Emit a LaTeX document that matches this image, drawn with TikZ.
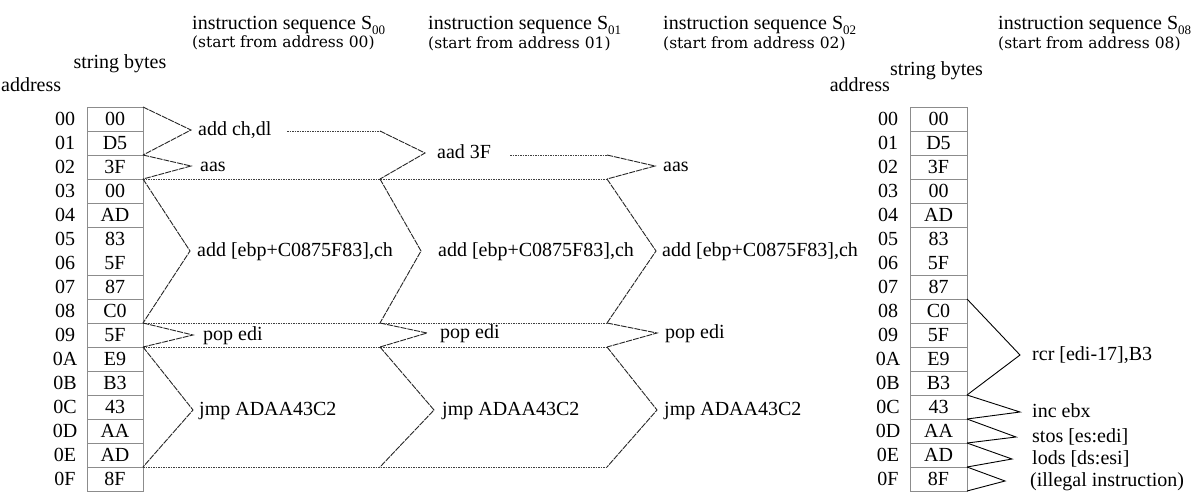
\documentclass[tikz,border=0pt]{standalone}
\usepackage{fontspec}
\setmainfont{Liberation Serif}
\newfontfamily\subfont{DejaVu Serif}
\begin{document}
\begin{tikzpicture}[x=1pt,y=-1pt,
  txt/.style={font=\fontsize{20}{22}\selectfont, inner sep=0pt, text height=14pt, text depth=4pt},
  lbl/.style={txt, anchor=west},
  sub/.style={font=\subfont\fontsize{15.5}{17}\selectfont, inner sep=0pt, anchor=west},
  addr/.style={txt},
  cell/.style={txt},
  tbl/.style={draw=black!45, line width=0.9pt},
  conn/.style={draw=black!85, line width=0.9pt, dash pattern=on 6pt off 1pt},
  solidconn/.style={draw=black, line width=0.9pt},
  dot/.style={draw=black!75, line width=0.8pt, dash pattern=on 1.5pt off 1pt}]
\useasboundingbox (0,0) rectangle (1198,493);
\fill[white] (0,0) rectangle (1198,493);

% headings
\node[lbl] (hal) at (1,86) {address};
\node[txt] (hsl) at (120,63) {string bytes};
\node[txt, anchor=east] (har) at (890,86) {address};
\node[lbl] (hsr) at (890,70) {string bytes};

\newcommand{\Sub}[1]{S\raisebox{-5pt}{\fontsize{13}{13}\selectfont #1}}
\node[lbl] (t00) at (192,24) {instruction sequence \Sub{00}};
\node[sub] (u00) at (192,43) {(start from address 00)};
\node[lbl] (t01) at (428,24) {instruction sequence \Sub{01}};
\node[sub] (u01) at (428,44) {(start from address 01)};
\node[lbl] (t02) at (663,24) {instruction sequence \Sub{02}};
\node[sub] (u02) at (663,44) {(start from address 02)};
\node[lbl] (t08) at (998,24) {instruction sequence \Sub{08}};
\node[sub] (u08) at (998,44) {(start from address 08)};

% tables
\draw[tbl] (87,107) rectangle (143,491);
\draw[tbl] (910,107) rectangle (967,491);
\foreach \i in {1,2,3,4,5,7,8,9,10,11,12,13,14,15} {
  \draw[tbl] (87,107+24*\i) -- (143,107+24*\i);
  \draw[tbl] (910,107+24*\i) -- (967,107+24*\i);
}
\foreach \i/\a/\v in {0/00/00,1/01/D5,2/02/3F,3/03/00,4/04/AD,5/05/83,6/06/5F,7/07/87,8/08/C0,9/09/5F,10/0A/E9,11/0B/B3,12/0C/43,13/0D/AA,14/0E/AD,15/0F/8F} {
  \node[addr] (La\i) at (65,120+24*\i) {\a};
  \node[cell] (Lc\i) at (115,120+24*\i) {\v};
  \node[addr] (Ra\i) at (888,120+24*\i) {\a};
  \node[cell] (Rc\i) at (938.5,120+24*\i) {\v};
}
\foreach \i in {0,...,16} {
  \coordinate (L\i) at (143,107+24*\i);
  \coordinate (A\i) at (380,107+24*\i);
  \coordinate (B\i) at (607,107+24*\i);
  \coordinate (R\i) at (967,107+24*\i);
}

% vertices
\coordinate (v00a) at (191,130); \node[lbl] (i00a) at (198,130) {add ch,dl};
\coordinate (v00b) at (191,166); \node[lbl] (i00b) at (200,166) {aas};
\coordinate (v00c) at (190,251); \node[lbl] (i00c) at (197,251) {add [ebp+C0875F83],ch};
\coordinate (v00d) at (193,335); \node[lbl] (i00d) at (203,335) {pop edi};
\coordinate (v00e) at (193,410); \node[lbl] (i00e) at (199,410) {jmp ADAA43C2};

\coordinate (v01a) at (425,153); \node[lbl] (i01a) at (437,153) {aad 3F};
\coordinate (v01b) at (421,251); \node[lbl] (i01b) at (438,251) {add [ebp+C0875F83],ch};
\coordinate (v01c) at (427,333); \node[lbl] (i01c) at (440,333) {pop edi};
\coordinate (v01d) at (434,410); \node[lbl] (i01d) at (442,410) {jmp ADAA43C2};

\coordinate (v02a) at (655,166); \node[lbl] (i02a) at (663,166) {aas};
\coordinate (v02b) at (656,251); \node[lbl] (i02b) at (662,251) {add [ebp+C0875F83],ch};
\coordinate (v02c) at (657,333); \node[lbl] (i02c) at (665,333) {pop edi};
\coordinate (v02d) at (657,410); \node[lbl] (i02d) at (664,410) {jmp ADAA43C2};

\coordinate (v08a) at (1020,355); \node[lbl] (i08a) at (1032,355) {rcr [edi-17],B3};
\coordinate (v08b) at (1020,412); \node[lbl] (i08b) at (1032,412) {inc ebx};
\coordinate (v08c) at (1016,437); \node[lbl] (i08c) at (1032,437) {stos [es:edi]};
\coordinate (v08d) at (1012,459); \node[lbl] (i08d) at (1032,459) {lods [ds:esi]};
\coordinate (v08e) at (1005,481); \node[lbl] (i08e) at (1030,481) {(illegal instruction)};

% dotted guides
\coordinate (d1) at (287,131);
\coordinate (d2) at (510,155);
\draw[dot] (d1) -- (A1);
\draw[dot] (d2) -- (B2);
\draw[dot] (L3) -- (B3);
\draw[dot] (L9) -- (B9);
\draw[dot] (L10) -- (B10);
\draw[dot] (L15) -- (B15);

% connectors S00
\draw[conn] (L0) -- (v00a) -- (L2);
\draw[conn] (L2) -- (v00b) -- (L3);
\draw[conn] (L3) -- (v00c) -- (L9);
\draw[conn] (L9) -- (v00d) -- (L10);
\draw[conn] (L10) -- (v00e) -- (L15);
% S01
\draw[conn] (A1) -- (v01a) -- (A3);
\draw[conn] (A3) -- (v01b) -- (A9);
\draw[conn] (A9) -- (v01c) -- (A10);
\draw[conn] (A10) -- (v01d) -- (A15);
% S02
\draw[conn] (B2) -- (v02a) -- (B3);
\draw[conn] (B3) -- (v02b) -- (B9);
\draw[conn] (B9) -- (v02c) -- (B10);
\draw[conn] (B10) -- (v02d) -- (B15);
% S08
\draw[solidconn] (R8) -- (v08a) -- (R12);
\draw[solidconn] (R12) -- (v08b) -- (R13);
\draw[solidconn] (R13) -- (v08c) -- (R14);
\draw[solidconn] (R14) -- (v08d) -- (R15);
\draw[solidconn] (R15) -- (v08e) -- (R16);
\end{tikzpicture}
\end{document}
